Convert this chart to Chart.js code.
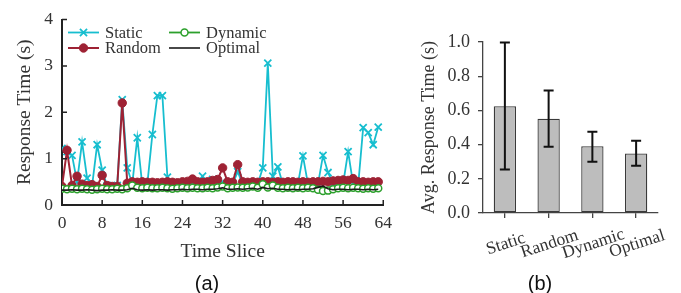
<!DOCTYPE html>
<html>
<head>
<meta charset="utf-8">
<script src="https://cdn.jsdelivr.net/npm/chart.js@4.4.1/dist/chart.umd.min.js"></script>
<style>
  body { margin: 0; background: #fff; }
  #wrap { position: relative; width: 681px; height: 293px; }
  canvas { position: absolute; top: 0; }
  #line-chart { left: 0; }
  #bar-chart { left: 400px; }
</style>
</head>
<body>
<div id="wrap">
  <canvas id="line-chart" width="400" height="293"></canvas>
  <canvas id="bar-chart" width="281" height="293"></canvas>
</div>
<script>
// (a) response time per time slice
const slices = Array.from({ length: 64 }, (_, i) => i);

const staticTimes = [
  1.22, 1.15, 1.07, 0.5, 1.36, 0.58, 0.42, 1.3, 0.75, 0.42, 0.4, 0.42,
  2.27, 0.8, 0.45, 1.45, 0.42, 0.45, 1.52, 2.36, 2.36, 0.6, 0.45, 0.45,
  0.42, 0.45, 0.45, 0.45, 0.62, 0.42, 0.55, 0.45, 0.5, 0.45, 0.45, 0.72,
  0.45, 0.42, 0.45, 0.45, 0.8, 3.06, 0.62, 0.82, 0.45, 0.42, 0.45, 0.45,
  1.06, 0.45, 0.42, 0.45, 1.07, 0.7, 0.45, 0.5, 0.45, 1.15, 0.45, 0.42,
  1.67, 1.56, 1.3, 1.68,
];
const randomTimes = [
  0.4, 1.18, 0.42, 0.62, 0.45, 0.42, 0.44, 0.4, 0.64, 0.42, 0.4, 0.4,
  2.2, 0.47, 0.5, 0.49, 0.5, 0.49, 0.49, 0.48, 0.49, 0.5, 0.49, 0.48,
  0.5, 0.51, 0.56, 0.5, 0.49, 0.5, 0.53, 0.55, 0.8, 0.5, 0.49, 0.87,
  0.5, 0.49, 0.5, 0.49, 0.5, 0.5, 0.49, 0.5, 0.49, 0.5, 0.5, 0.49,
  0.5, 0.49, 0.5, 0.5, 0.51, 0.5, 0.52, 0.53, 0.54, 0.53, 0.57, 0.5,
  0.5, 0.49, 0.5, 0.5,
];
const dynamicTimes = [
  0.35, 0.34, 0.35, 0.34, 0.35, 0.34, 0.33, 0.34, 0.35, 0.34, 0.34, 0.35,
  0.34, 0.36, 0.42, 0.37, 0.36, 0.37, 0.36, 0.36, 0.37, 0.36, 0.35, 0.36,
  0.37, 0.36, 0.37, 0.36, 0.36, 0.37, 0.36, 0.38, 0.4, 0.36, 0.37, 0.38,
  0.37, 0.38, 0.4, 0.37, 0.45, 0.38, 0.42, 0.37, 0.36, 0.37, 0.36, 0.37,
  0.36, 0.37, 0.36, 0.33, 0.3, 0.31, 0.34, 0.36, 0.37, 0.36, 0.37, 0.36,
  0.35, 0.36, 0.35, 0.36,
];
const optimalTimes = [
  0.32, 0.32, 0.33, 0.32, 0.32, 0.33, 0.32, 0.31, 0.32, 0.32, 0.33, 0.32,
  0.32, 0.33, 0.36, 0.33, 0.32, 0.33, 0.32, 0.33, 0.33, 0.32, 0.33, 0.33,
  0.34, 0.33, 0.34, 0.34, 0.33, 0.34, 0.34, 0.35, 0.37, 0.34, 0.34, 0.35,
  0.34, 0.35, 0.36, 0.34, 0.38, 0.35, 0.36, 0.34, 0.34, 0.33, 0.34, 0.33,
  0.34, 0.34, 0.35, 0.38, 0.41, 0.35, 0.33, 0.34, 0.34, 0.33, 0.34, 0.34,
  0.33, 0.34, 0.33, 0.34,
];

// (b) averages with error bars
const schemes = ["Static", "Random", "Dynamic", "Optimal"];
const avgTimes = [0.625, 0.551, 0.391, 0.348];
const errLow = [0.254, 0.387, 0.3, 0.277];
const errHigh = [0.997, 0.716, 0.475, 0.422];

const Config = {
  colors: {
    cyan: "#17becf",
    red: "#9e2234",
    green: "#2ca02c",
    black: "#1a1a1a",
    text: "#333",
    axis: "#222",
    bar: "#bdbdbd",
    barBorder: "#3a3a3a",
  },
  serif: `"Liberation Serif", "Times New Roman", serif`,
  sans: `"Liberation Sans", Arial, sans-serif`,
};

const toPoints = (values) => values.map((v, i) => ({ x: slices[i], y: v }));

// ticks that point into the plot, like the original
const innerTicks = {
  id: "innerTicks",
  afterDraw(chart) {
    const { ctx, chartArea, scales } = chart;
    ctx.save();
    ctx.strokeStyle = Config.colors.axis;
    ctx.lineWidth = 1.5;
    ctx.beginPath();
    scales.x.ticks.forEach((t) => {
      const px = scales.x.getPixelForValue(t.value);
      ctx.moveTo(px, chartArea.bottom);
      ctx.lineTo(px, chartArea.bottom - 5);
    });
    scales.y.ticks.forEach((t) => {
      const py = scales.y.getPixelForValue(t.value);
      ctx.moveTo(chartArea.left, py);
      ctx.lineTo(chartArea.left + 5, py);
    });
    ctx.stroke();
    ctx.restore();
  },
};

const drawMarker = (ctx, ds, x, y) => {
  const r = ds.pointRadius;
  if (!r) return;
  ctx.lineWidth = ds.pointBorderWidth || 1.5;
  ctx.strokeStyle = ds.borderColor;
  ctx.fillStyle = ds.pointBackgroundColor || ds.borderColor;
  ctx.beginPath();
  if (ds.pointStyle === "crossRot") {
    const d = r * Math.SQRT1_2;
    ctx.moveTo(x - d, y - d);
    ctx.lineTo(x + d, y + d);
    ctx.moveTo(x + d, y - d);
    ctx.lineTo(x - d, y + d);
    ctx.stroke();
  } else {
    ctx.arc(x, y, r, 0, Math.PI * 2);
    ctx.fill();
    ctx.stroke();
  }
};

// two-column legend inside the plot
const insideLegend = {
  id: "insideLegend",
  afterDraw(chart) {
    const { ctx, chartArea } = chart;
    const byLabel = {};
    chart.data.datasets.forEach((ds) => (byLabel[ds.label] = ds));
    const rows = [
      ["Static", "Dynamic"],
      ["Random", "Optimal"],
    ];
    ctx.save();
    ctx.font = `16.5px ${Config.serif}`;
    ctx.textBaseline = "middle";
    rows.forEach((row, r) => {
      const y = chartArea.top + 13 + r * 15.5;
      row.forEach((label, c) => {
        const ds = byLabel[label];
        const x0 = chartArea.left + 6 + c * 101;
        ctx.strokeStyle = ds.borderColor;
        ctx.lineWidth = ds.borderWidth;
        ctx.beginPath();
        ctx.moveTo(x0, y);
        ctx.lineTo(x0 + 31, y);
        ctx.stroke();
        drawMarker(ctx, ds, x0 + 15.5, y);
        ctx.fillStyle = Config.colors.text;
        ctx.textAlign = "left";
        ctx.fillText(label, x0 + 37, y + 1);
      });
    });
    ctx.restore();
  },
};

const caption = (text, dx) => ({
  id: "caption",
  afterDraw(chart) {
    const { ctx, chartArea } = chart;
    ctx.save();
    ctx.font = `20px ${Config.sans}`;
    ctx.fillStyle = "#111";
    ctx.textAlign = "center";
    ctx.textBaseline = "middle";
    ctx.fillText(text, chartArea.left + dx, 284);
    ctx.restore();
  },
});

new Chart(document.getElementById("line-chart"), {
  type: "line",
  data: {
    datasets: [
      {
        label: "Optimal",
        data: toPoints(optimalTimes),
        borderColor: Config.colors.black,
        borderWidth: 1.6,
        pointRadius: 0,
      },
      {
        label: "Dynamic",
        data: toPoints(dynamicTimes),
        borderColor: Config.colors.green,
        borderWidth: 1.8,
        pointStyle: "circle",
        pointRadius: 3.5,
        pointBorderWidth: 1.5,
        pointBorderColor: Config.colors.green,
        pointBackgroundColor: "#ffffff",
      },
      {
        label: "Random",
        data: toPoints(randomTimes),
        borderColor: Config.colors.red,
        borderWidth: 2,
        pointStyle: "circle",
        pointRadius: 4.2,
        pointBorderWidth: 1,
        pointBorderColor: Config.colors.red,
        pointBackgroundColor: Config.colors.red,
      },
      {
        label: "Static",
        data: toPoints(staticTimes),
        borderColor: Config.colors.cyan,
        borderWidth: 1.8,
        pointStyle: "crossRot",
        pointRadius: 5,
        pointBorderWidth: 1.8,
        pointBorderColor: Config.colors.cyan,
      },
    ],
  },
  options: {
    responsive: false,
    animation: false,
    layout: { padding: { left: 0, top: 17, right: 12, bottom: 0 } },
    elements: { line: { tension: 0 } },
    scales: {
      x: {
        type: "linear",
        min: 0,
        max: 64,
        ticks: {
          stepSize: 8,
          padding: 8,
          maxRotation: 0,
          color: Config.colors.text,
          font: { family: Config.serif, size: 17.5 },
        },
        grid: { drawOnChartArea: false, drawTicks: false },
        border: { color: Config.colors.axis, width: 2 },
        title: {
          display: true,
          text: "Time Slice",
          color: Config.colors.text,
          font: { family: Config.serif, size: 19.5 },
          padding: { top: 0, bottom: 29.5 },
        },
        afterFit: (s) => { s.height = 88; },
      },
      y: {
        min: 0,
        max: 4,
        ticks: {
          stepSize: 0.5,
          padding: 9,
          color: Config.colors.text,
          font: { family: Config.serif, size: 17.5 },
          callback: (v) => (Number.isInteger(v) ? v : ""),
        },
        grid: { drawOnChartArea: false, drawTicks: false },
        border: { color: Config.colors.axis, width: 2 },
        title: {
          display: true,
          text: "Response Time (s)",
          color: Config.colors.text,
          font: { family: Config.serif, size: 19.5 },
          padding: { top: 12.8, bottom: 0 },
        },
        afterFit: (s) => { s.width = 62; },
      },
    },
    plugins: {
      legend: { display: false },
      tooltip: { enabled: false },
    },
  },
  plugins: [innerTicks, insideLegend, caption("(a)", 145)],
});

// error bars and slanted category labels for (b)
const errorBars = {
  id: "errorBars",
  afterDatasetsDraw(chart) {
    const { ctx, scales } = chart;
    const meta = chart.getDatasetMeta(0);
    ctx.save();
    ctx.strokeStyle = "#111";
    ctx.lineWidth = 2;
    meta.data.forEach((bar, i) => {
      const lo = scales.y.getPixelForValue(errLow[i]);
      const hi = scales.y.getPixelForValue(errHigh[i]);
      ctx.beginPath();
      ctx.moveTo(bar.x, lo);
      ctx.lineTo(bar.x, hi);
      ctx.moveTo(bar.x - 5, lo);
      ctx.lineTo(bar.x + 5, lo);
      ctx.moveTo(bar.x - 5, hi);
      ctx.lineTo(bar.x + 5, hi);
      ctx.stroke();
    });
    ctx.restore();
  },
};

const slantLabels = {
  id: "slantLabels",
  afterDraw(chart) {
    const { ctx, scales } = chart;
    ctx.save();
    ctx.font = `17.5px ${Config.serif}`;
    ctx.fillStyle = Config.colors.text;
    ctx.textAlign = "center";
    ctx.textBaseline = "middle";
    schemes.forEach((name, i) => {
      const x = scales.x.getPixelForValue(i) + 1;
      ctx.save();
      ctx.translate(x, scales.x.top + 31);
      ctx.rotate((-18 * Math.PI) / 180);
      ctx.fillText(name, 0, 0);
      ctx.restore();
    });
    ctx.restore();
  },
};

new Chart(document.getElementById("bar-chart"), {
  type: "bar",
  data: {
    labels: schemes,
    datasets: [
      {
        data: avgTimes,
        backgroundColor: Config.colors.bar,
        borderColor: Config.colors.barBorder,
        borderWidth: 1.3,
        borderSkipped: false,
        barPercentage: 0.51,
        categoryPercentage: 1,
      },
    ],
  },
  options: {
    responsive: false,
    animation: false,
    layout: { padding: { left: 0, top: 42, right: 23, bottom: 0 } },
    scales: {
      x: {
        ticks: { display: false },
        grid: {
          offset: false,
          drawOnChartArea: false,
          drawTicks: true,
          tickLength: 5,
          color: "#444",
          lineWidth: 1.3,
        },
        border: { color: "#444", width: 1.3 },
        afterFit: (s) => { s.height = 80; },
      },
      y: {
        min: 0,
        max: 1,
        ticks: {
          stepSize: 0.2,
          padding: 8,
          color: Config.colors.text,
          font: { family: Config.serif, size: 18 },
          callback: (v) => v.toFixed(1),
        },
        grid: {
          drawOnChartArea: false,
          drawTicks: true,
          tickLength: 5,
          color: "#444",
          lineWidth: 1.3,
        },
        border: { color: "#444", width: 1.3 },
        title: {
          display: true,
          text: "Avg. Response Time (s)",
          color: Config.colors.text,
          font: { family: Config.serif, size: 18 },
          padding: { top: 18, bottom: 0 },
        },
        afterFit: (s) => { s.width = 83; },
      },
    },
    plugins: {
      legend: { display: false },
      tooltip: { enabled: false },
    },
  },
  plugins: [errorBars, slantLabels, caption("(b)", 57)],
});
</script>
</body>
</html>
